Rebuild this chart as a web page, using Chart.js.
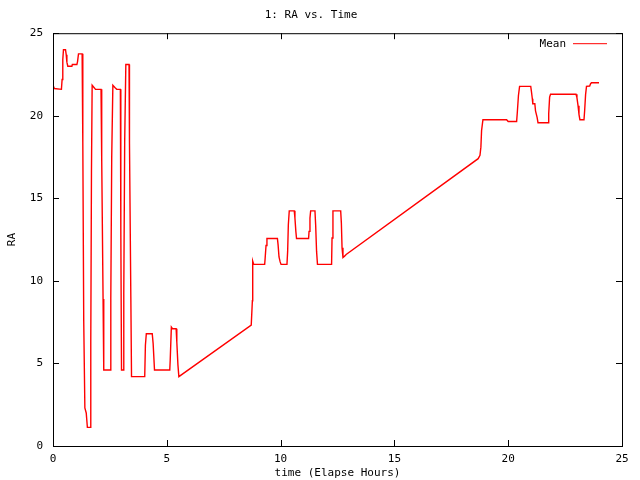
<!DOCTYPE html>
<html>
<head>
<meta charset="utf-8">
<title>1: RA vs. Time</title>
<script src="https://cdn.jsdelivr.net/npm/chart.js@4/dist/chart.umd.min.js"></script>
<style>
  html, body { margin: 0; padding: 0; background: #fff; }
  #wrap { width: 640px; height: 480px; }
</style>
</head>
<body>
<div id="wrap"><canvas id="raChart" width="640" height="480"></canvas></div>
<script>
// RA (Mean) vs elapsed time
const timeHours = [
  0.00, 0.06, 0.37, 0.40, 0.43, 0.46, 0.55, 0.58, 0.61, 0.65, 0.83, 0.85, 1.05, 1.08, 1.12, 1.28,
  1.31, 1.35, 1.40, 1.46, 1.51, 1.63, 1.66, 1.69, 1.72, 1.81, 1.87, 2.11, 2.14, 2.20, 2.23, 2.52,
  2.54, 2.58, 2.63, 2.73, 2.80, 2.96, 2.98, 3.01, 3.09, 3.11, 3.15, 3.20, 3.34, 3.36, 3.42, 3.45,
  4.03, 4.06, 4.10, 4.36, 4.40, 4.46, 5.13, 5.15, 5.20, 5.25, 5.41, 5.44, 5.49, 5.53,
  8.71, 8.76, 8.77, 8.78, 8.82, 9.30, 9.32, 9.36, 9.40, 9.86, 9.89, 9.93, 9.98, 10.02, 10.28,
  10.31, 10.34, 10.38, 10.60, 10.63, 10.67, 10.70, 11.23, 11.25, 11.29, 11.32, 11.51, 11.54,
  11.58, 11.62, 12.24, 12.26, 12.30, 12.64, 12.67, 12.70, 12.74, 12.81, 12.88,
  18.68, 18.76, 18.80, 18.83, 18.89, 19.93, 20.00, 20.37, 20.40, 20.45, 20.50, 20.99, 21.02,
  21.06, 21.08, 21.17, 21.20, 21.27, 21.31, 21.75, 21.78, 21.82, 21.86, 22.98, 23.02, 23.07,
  23.11, 23.15, 23.33, 23.36, 23.40, 23.44, 23.58, 23.62, 23.66, 23.99
];
const raMean = [
  21.85, 21.65, 21.6, 22.2, 23.4, 24.0, 24.0, 23.7, 23.25, 23.0, 23.0, 23.1, 23.1, 23.3, 23.75, 23.75,
  18.4, 7.6, 2.3, 2.0, 1.13, 1.13, 6.3, 16.6, 21.85, 21.7, 21.6, 21.6, 17.4, 8.9, 4.6, 4.6,
  8.9, 17.5, 21.85, 21.7, 21.6, 21.6, 13.1, 4.6, 4.6, 9.2, 18.45, 23.1, 23.1, 18.4, 9.0, 4.2,
  4.2, 6.1, 6.8, 6.8, 6.2, 4.6, 4.6, 5.2, 7.2, 7.1, 7.1, 6.3, 4.9, 4.2,
  7.32, 8.8, 10.2, 11.2, 11.0, 11.0, 11.35, 12.14, 12.57, 12.57, 12.18, 11.45, 11.15, 11.0, 11.0,
  11.8, 13.4, 14.24, 14.24, 13.8, 13.0, 12.57, 12.57, 13.0, 13.8, 14.24, 14.24, 13.4,
  11.8, 11.0, 11.0, 12.6, 14.24, 14.24, 13.5, 12.0, 11.42, 11.5, 11.6,
  17.4, 17.6, 18.1, 19.1, 19.76, 19.76, 19.65, 19.65, 20.2, 21.23, 21.78, 21.78, 21.48,
  21.03, 20.73, 20.73, 20.3, 19.9, 19.58, 19.58, 20.13, 21.13, 21.3, 21.3, 21.1, 20.6,
  20.08, 19.76, 19.76, 20.33, 21.28, 21.78, 21.8, 21.94, 22.0, 22.0
];
const xTicks = [0, 5, 10, 15, 20, 25];
const yTicks = [0, 5, 10, 15, 20, 25];
const seriesName = 'Mean';

const FONT = '"DejaVu Sans Mono", "Liberation Mono", monospace';

// gnuplot look: box round the plot, ticks pointing inwards, legend inside top right
const gnuplotFrame = {
  id: 'gnuplotFrame',
  afterDraw(chart) {
    const { ctx, chartArea: a, scales } = chart;
    ctx.save();
    ctx.strokeStyle = '#000';
    ctx.lineWidth = 1;
    ctx.strokeRect(a.left + 0.5, a.top + 0.5, a.right - a.left, a.bottom - a.top);
    const len = 6;
    ctx.beginPath();
    xTicks.forEach(v => {
      const px = Math.round(scales.x.getPixelForValue(v)) + 0.5;
      ctx.moveTo(px, a.bottom); ctx.lineTo(px, a.bottom - len);
      ctx.moveTo(px, a.top); ctx.lineTo(px, a.top + len);
    });
    yTicks.forEach(v => {
      const py = Math.round(scales.y.getPixelForValue(v)) + 0.5;
      ctx.moveTo(a.left, py); ctx.lineTo(a.left + len, py);
      ctx.moveTo(a.right, py); ctx.lineTo(a.right - len, py);
    });
    ctx.stroke();

    // legend
    ctx.font = '11px ' + FONT;
    ctx.fillStyle = '#000';
    ctx.textAlign = 'right';
    ctx.textBaseline = 'middle';
    const ly = a.top + 10.5;
    ctx.fillText(seriesName, a.right - 56, ly);
    ctx.strokeStyle = '#ff0000';
    ctx.beginPath();
    ctx.moveTo(a.right - 49, ly); ctx.lineTo(a.right - 15, ly);
    ctx.stroke();
    ctx.restore();
  }
};

new Chart(document.getElementById('raChart'), {
  type: 'line',
  data: {
    datasets: [{
      label: seriesName,
      data: timeHours.map((t, i) => ({ x: t, y: raMean[i] })),
      borderColor: '#ff0000',
      borderWidth: 1.4,
      pointRadius: 0,
      tension: 0,
      fill: false
    }]
  },
  options: {
    responsive: false,
    animation: false,
    layout: { padding: { right: 18, left: 0, top: 0, bottom: 0 } },
    plugins: {
      legend: { display: false },
      tooltip: { enabled: false },
      title: {
        display: true,
        text: '1: RA vs. Time',
        color: '#000',
        font: { family: FONT, size: 11, weight: 'normal' },
        padding: { top: 9, bottom: 11 }
      }
    },
    scales: {
      x: {
        type: 'linear',
        min: 0, max: 25,
        afterBuildTicks: s => { s.ticks = xTicks.map(v => ({ value: v })); },
        afterFit: s => { s.height = 34; },
        grid: { display: false, drawTicks: false },
        border: { display: false },
        ticks: { color: '#000', padding: 7, font: { family: FONT, size: 11 } },
        title: {
          display: true, text: 'time (Elapse Hours)', color: '#000',
          font: { family: FONT, size: 11 }, padding: { top: 2, bottom: 0 }
        }
      },
      y: {
        type: 'linear',
        min: 0, max: 25,
        afterBuildTicks: s => { s.ticks = yTicks.map(v => ({ value: v })); },
        afterFit: s => { s.width = 53; },
        grid: { display: false, drawTicks: false },
        border: { display: false },
        ticks: { color: '#000', padding: 10, font: { family: FONT, size: 11 } },
        title: {
          display: true, text: 'RA', color: '#000',
          font: { family: FONT, size: 11 }, padding: { top: 6, bottom: 0 }
        }
      }
    }
  },
  plugins: [gnuplotFrame]
});
</script>
</body>
</html>
